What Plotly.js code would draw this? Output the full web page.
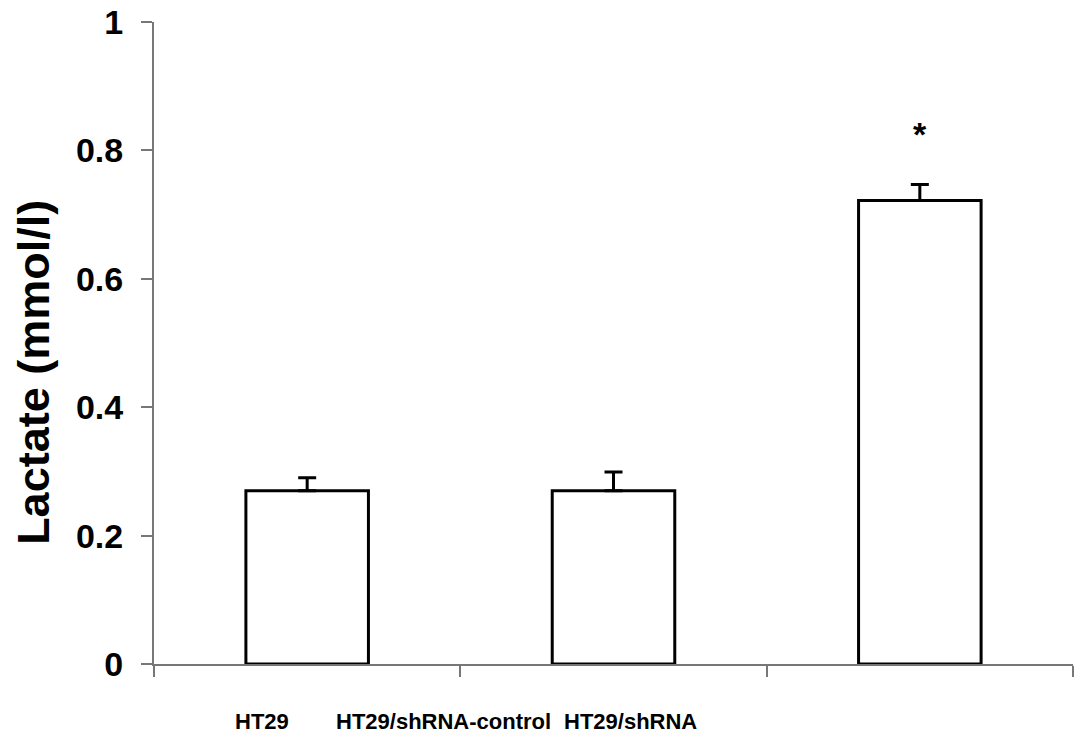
<!DOCTYPE html>
<html>
<head>
<meta charset="utf-8">
<script src="https://cdn.plot.ly/plotly-3.0.1.min.js"></script>
<style>html,body{margin:0;padding:0;background:#fff;}#chart{width:1087px;height:751px;}</style>
</head>
<body>
<div id="chart"></div>
<script>
const categories = ["HT29", "HT29/shRNA-control", "HT29/shRNA"];
const lactate = [0.27, 0.27, 0.722];
const lactateErr = [0.02, 0.029, 0.025];
const significance = ["", "", "*"];
const yTickVals = [0, 0.2, 0.4, 0.6, 0.8, 1];
const yTickText = ["0", "0.2", "0.4", "0.6", "0.8", "1"];
const yTitle = "Lactate (mmol/l)";
// label anchor positions (paper fraction) as drawn in the source figure
const labelPos = [0.1175, 0.3145, 0.518];

const bar = {
  type: "bar",
  x: categories,
  y: lactate,
  width: 0.4,
  marker: {color: "#ffffff", line: {color: "#000000", width: 3}},
  error_y: {type: "data", array: lactateErr, symmetric: false, arrayminus: [0,0,0],
            visible: true, color: "#000000", thickness: 3, width: 9},
  hoverinfo: "skip"
};

const annotations = [];
categories.forEach((c, i) => {
  annotations.push({
    xref: "paper", yref: "paper", x: labelPos[i], y: -0.09,
    xanchor: "center", yanchor: "middle", showarrow: false,
    text: "<b>" + c + "</b>",
    font: {family: "Liberation Sans, Arial", size: 22, color: "#000"}
  });
  if (significance[i]) {
    annotations.push({
      xref: "x", yref: "y", x: c, y: lactate[i] + lactateErr[i] + 0.078,
      xanchor: "center", yanchor: "middle", showarrow: false,
      text: "<b>" + significance[i] + "</b>",
      font: {family: "Liberation Sans, Arial", size: 34, color: "#000"}
    });
  }
});
annotations.push({
  xref: "paper", yref: "paper", x: -0.1306, y: 0.455,
  xanchor: "center", yanchor: "middle", showarrow: false, textangle: -90,
  text: "<b>" + yTitle + "</b>",
  font: {family: "Liberation Sans, Arial", size: 45, color: "#000"}
});

const layout = {
  width: 1087, height: 751,
  margin: {l: 154, r: 14, t: 22, b: 87, pad: 0},
  paper_bgcolor: "#fff", plot_bgcolor: "#fff",
  showlegend: false,
  font: {family: "Liberation Sans, Arial", color: "#000"},
  xaxis: {
    type: "category", range: [-0.5, 2.5],
    tickson: "boundaries", ticks: "outside", ticklen: 11, tickwidth: 2, tickcolor: "#777",
    showticklabels: false, showline: true, linecolor: "#777", linewidth: 2,
    showgrid: false, zeroline: false, fixedrange: true
  },
  yaxis: {
    range: [0, 1], tickmode: "array", tickvals: yTickVals, ticktext: yTickText,
    ticks: "outside", ticklen: 11, tickwidth: 2, tickcolor: "#777",
    showline: true, linecolor: "#777", linewidth: 2, showgrid: false, zeroline: false,
    tickfont: {family: "Liberation Sans, Arial", size: 34, color: "#000", weight: "bold"},
    ticklabelstandoff: 11,
    fixedrange: true
  },
  annotations: annotations
};

Plotly.newPlot("chart", [bar], layout, {displayModeBar: false, staticPlot: true});
</script>
</body>
</html>
